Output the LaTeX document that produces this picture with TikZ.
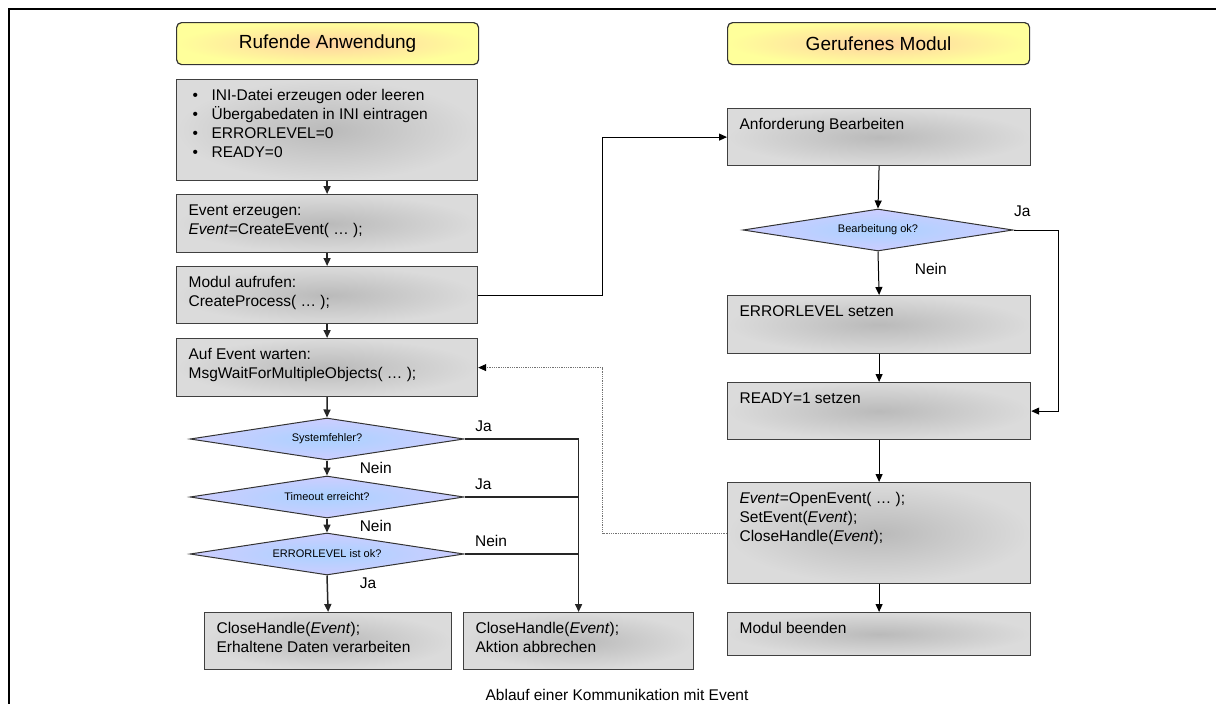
\documentclass[tikz,border=0pt]{standalone}
\usepackage{fontspec}
\setmainfont{Liberation Sans}
\usetikzlibrary{arrows.meta,positioning,calc,shapes.geometric}

\definecolor{boxedge}{RGB}{219,219,219}
\definecolor{boxmid}{RGB}{186,186,186}
\definecolor{headedge}{RGB}{255,255,155}
\definecolor{headmid}{RGB}{255,210,160}
\definecolor{askedge}{RGB}{205,205,255}
\definecolor{askmid}{RGB}{170,210,255}

% text of a box, top left, fixed size
\newcommand{\btext}[3]{\parbox[b][#2pt][t]{#1pt}{\raggedright #3}}
\newcommand{\bul}{\hspace*{4pt}\makebox[19pt][l]{\textbullet}}

\begin{document}
\begin{tikzpicture}[x=1pt, y=-1pt,
  every node/.style={font=\fontsize{15.5}{19}\selectfont},
  head/.style={draw=black!80, line width=1.2pt, rounded corners=5pt,
    inner color=headmid, outer color=headedge, anchor=north west,
    minimum width=302pt, minimum height=42pt, font=\fontsize{19}{22}\selectfont},
  stepbox/.style={draw=black!75, line width=1.2pt, inner color=boxmid,
    outer color=boxedge, anchor=north west, inner xsep=12pt, inner ysep=10pt},
  ask/.style={diamond, aspect=6, draw=black!80, line width=1pt, inner sep=0pt,
    minimum width=274pt, minimum height=42pt, inner color=askmid,
    outer color=askedge, font=\fontsize{11}{13}\selectfont},
  flow/.style={-{Triangle[length=8pt,width=7pt]}, line width=1.5pt, draw=black!85},
  joint/.style={line width=1.3pt, draw=black!85},
  link/.style={-{Triangle[length=8pt,width=7pt]}, line width=1pt},
  signal/.style={-{Triangle[length=8pt,width=7pt,color=black]}, densely dotted,
    line width=0.8pt, draw=black!55},
  tiplbl/.style={inner sep=0pt, anchor=south west, xshift=10pt, yshift=7pt},
]
\useasboundingbox (0,0) rectangle (1216,704);
\draw[line width=2.5pt] (9,704) -- (9,9) -- (1216,9);

% calling side
\node[head] (hl) at (176,22) {Rufende Anwendung};
\node[stepbox] (ini) at (176,79) {\btext{277}{81}{\bul INI-Datei erzeugen oder leeren\\
  \bul Übergabedaten in INI eintragen\\ \bul ERRORLEVEL=0\\ \bul READY=0}};
\node[stepbox] (evt) at (176,194) {\btext{277}{38}{Event erzeugen:\\ \textit{Event}=CreateEvent( … );}};
\node[stepbox] (call) at (176,266) {\btext{277}{37}{Modul aufrufen:\\ CreateProcess( … );}};
\node[stepbox] (wait) at (176,338) {\btext{277}{38}{Auf Event warten:\\ MsgWaitForMultipleObjects( … );}};
\node[ask] (sysf) at (327,439) {Systemfehler?};
\node[ask] (tout) at (327,497) {Timeout erreicht?};
\node[ask] (elok) at (327,554) {ERRORLEVEL ist ok?};
\node[stepbox] (done) at (204,612) {\btext{223}{37}{CloseHandle(\textit{Event});\\ Erhaltene Daten verarbeiten}};
\node[stepbox] (abort) at (463,612) {\btext{206}{37}{CloseHandle(\textit{Event});\\ Aktion abbrechen}};

% called side
\node[head] (hr) at (727,22) {Gerufenes Modul};
\node[stepbox] (req) at (727,108) {\btext{279}{37}{Anforderung Bearbeiten}};
\node[ask, minimum width=270pt] (bok) at (878,230) {Bearbeitung ok?};
\node[stepbox] (err) at (727,295) {\btext{279}{38}{ERRORLEVEL setzen}};
\node[stepbox] (rdy) at (727,382) {\btext{279}{37}{READY=1 setzen}};
\node[stepbox] (sig) at (727,482) {\btext{279}{81}{\textit{Event}=OpenEvent( … );\\
  SetEvent(\textit{Event});\\ CloseHandle(\textit{Event});}};
\node[stepbox] (fin) at (727,612) {\btext{279}{23}{Modul beenden}};

\node[anchor=base] (cap) at (617,700) {Ablauf einer Kommunikation mit Event};

% connectors left
\draw[flow] (ini.south) -- (evt.north);
\draw[flow] (evt.south) -- (call.north);
\draw[flow] (call.south) -- (wait.north);
\draw[flow] (wait.south) -- (sysf.north);
\draw[flow] (sysf.south) -- (tout.north) node[midway, right=32pt, inner sep=0pt] {Nein};
\draw[flow] (tout.south) -- (elok.north) node[midway, right=32pt, inner sep=0pt] {Nein};
\draw[flow] (elok.south) -- (done.north) node[pos=0.22, right=32pt, inner sep=0pt] {Ja};
\draw[flow] (sysf.east) node[tiplbl] {Ja} -| (abort.north);
\draw[joint] (tout.east) node[tiplbl] {Ja} -- (tout.east -| abort.north);
\draw[joint] (elok.east) node[tiplbl] {Nein} -- (elok.east -| abort.north);
\draw[link] (call.east) -| ($(call.east)!.5!(req.west)$) |- (req.west);

% connectors right
\draw[link] (req.south) -- (bok.north);
\draw[link] (bok.south) -- (err.north) node[pos=0.39, right=36pt, inner sep=0pt] {Nein};
\draw[link] (err.south) -- (rdy.north);
\draw[link] (rdy.south) -- (sig.north);
\draw[link] (sig.south) -- (fin.north);
\draw[link] (bok.east) node[tiplbl, xshift=-10pt, yshift=6pt] {Ja} -- ++(45,0) |- (rdy.east);
\draw[signal] (sig.west) -| ($(sig.west)!.5!(wait.east)$) |- (wait.east);
\end{tikzpicture}
\end{document}
